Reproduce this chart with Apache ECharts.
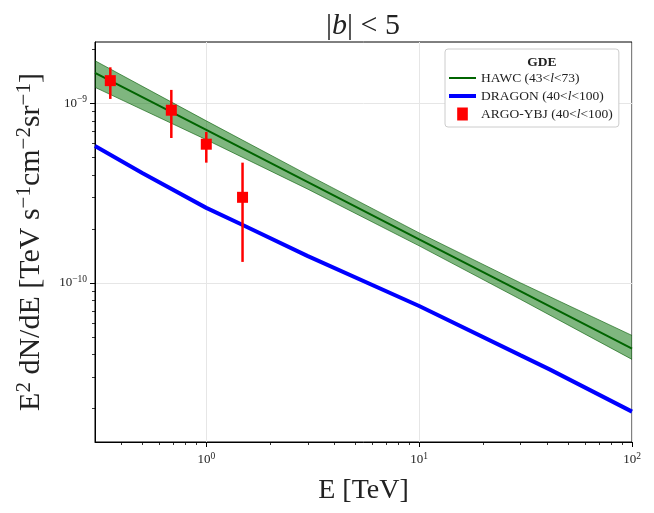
<!DOCTYPE html>
<html>
<head>
<meta charset="utf-8">
<script src="https://cdn.jsdelivr.net/npm/echarts@6/dist/echarts.min.js"></script>
<style>
  html, body { margin: 0; padding: 0; background: #fff; }
  #chart { width: 654px; height: 513px; }
</style>
</head>
<body>
<div id="chart"></div>
<script>
// HAWC power law with its uncertainty band
var hawcE = [0.3, 1, 3, 10, 30, 100];
var hawcFlux = [1.48e-9, 7.13e-10, 3.65e-10, 1.75e-10, 8.97e-11, 4.31e-11];
var hawcUpper = [1.73e-9, 8.0e-10, 4.0e-10, 1.9e-10, 1.0e-10, 5.1e-11];
var hawcLower = [1.23e-9, 6.28e-10, 3.33e-10, 1.61e-10, 8.09e-11, 3.75e-11];

// DRAGON model
var dragonE = [0.3, 0.5, 1, 1.5, 3, 10, 30, 41, 100];
var dragonFlux = [5.79e-10, 4.1e-10, 2.62e-10, 2.09e-10, 1.41e-10, 7.44e-11, 3.95e-11, 3.3e-11, 1.92e-11];

// ARGO-YBJ points
var argoE = [0.354, 0.685, 1.0, 1.48];
var argoFlux = [1.34e-9, 9.17e-10, 5.93e-10, 3.0e-10];
var argoHigh = [1.59e-9, 1.19e-9, 6.94e-10, 4.68e-10];
var argoLow = [1.06e-9, 6.42e-10, 4.68e-10, 1.31e-10];

// ticks
var xMajor = [1, 10, 100];
var xMinor = [0.4, 0.5, 0.6, 0.7, 0.8, 0.9, 2, 3, 4, 5, 6, 7, 8, 9, 20, 30, 40, 50, 60, 70, 80, 90];
var yMajor = [1e-10, 1e-9];
var yMinor = [2e-11, 3e-11, 4e-11, 5e-11, 6e-11, 7e-11, 8e-11, 9e-11,
              2e-10, 3e-10, 4e-10, 5e-10, 6e-10, 7e-10, 8e-10, 9e-10, 2e-9];

var serif = '"Liberation Serif", "DejaVu Serif", serif';

function zip(a, b) {
    var out = [];
    for (var i = 0; i < a.length; i++) out.push([a[i], b[i]]);
    return out;
}

function powLabel(v) {
    var e = Math.round(Math.log10(v));
    return '10{sup|' + (e < 0 ? '\u2212' + (-e) : e) + '}';
}

var labelRich = {
    sup: { fontFamily: serif, fontSize: 9.5, color: '#222', padding: [0, 0, 7, 0] }
};

function majorAxis(pos, min, max, vals, margin) {
    return {
        type: 'log', logBase: 10, min: min, max: max, position: pos,
        axisLine: { show: true, lineStyle: { color: '#000', width: 1 } },
        axisTick: { show: true, customValues: vals, length: 5, lineStyle: { color: '#000', width: 1 } },
        axisLabel: {
            customValues: vals, formatter: powLabel, margin: margin,
            fontFamily: serif, fontSize: 13, color: '#222', rich: labelRich
        },
        splitLine: { show: true, lineStyle: { color: '#e6e6e6', width: 1 } },
        minorTick: { show: false }
    };
}

function minorAxis(pos, min, max, vals) {
    return {
        type: 'log', logBase: 10, min: min, max: max, position: pos,
        axisLine: { show: false },
        axisTick: { show: true, customValues: vals, length: 3, lineStyle: { color: '#000', width: 0.8 } },
        axisLabel: { show: false },
        splitLine: { show: false }
    };
}

var chart = echarts.init(document.getElementById('chart'));

var xMain = majorAxis('bottom', 0.3, 100, xMajor, 9);
xMain.name = 'E [TeV]';
xMain.nameLocation = 'middle';
xMain.nameGap = 35;
xMain.nameTextStyle = { fontFamily: serif, fontSize: 28, color: '#222' };

var yMain = majorAxis('left', 1.3e-11, 2.2e-9, yMajor, 8);
yMain.name = 'E{s|2} dN/dE [TeV s{s|\u22121}cm{s|\u22122}sr{s|\u22121}]';
yMain.nameLocation = 'middle';
yMain.nameGap = 46;
yMain.nameTextStyle = {
    fontFamily: serif, fontSize: 30, color: '#222',
    rich: { s: { fontFamily: serif, fontSize: 21, color: '#222', padding: [0, 0, 14, 0] } }
};

chart.setOption({
    animation: false,
    title: [{
        text: '|{i|b}| < 5',
        left: 358, top: 6, textAlign: 'center',
        textStyle: {
            fontFamily: serif, fontSize: 30, fontWeight: 'normal', color: '#222',
            rich: { i: { fontFamily: serif, fontSize: 30, fontStyle: 'italic', color: '#222' } }
        }
    }, {
        text: 'GDE',
        left: 537, top: 51, textAlign: 'center',
        textStyle: { fontFamily: serif, fontSize: 13.5, fontWeight: 'bold', color: '#222' }
    }],
    grid: {
        left: 95, right: 22, top: 42, bottom: 71,
        outerBoundsMode: 'none',
        containLabel: false,
        show: true, borderColor: '#000', borderWidth: 1
    },
    legend: {
        orient: 'vertical',
        left: 445, top: 49,
        padding: [22, 6, 6, 4],
        itemGap: 4,
        itemWidth: 27, itemHeight: 13,
        backgroundColor: '#fff',
        borderColor: '#cccccc', borderWidth: 1, borderRadius: 3,
        textStyle: {
            fontFamily: serif, fontSize: 13.5, color: '#222',
            rich: { i: { fontFamily: serif, fontSize: 13.5, fontStyle: 'italic', color: '#222' } }
        },
        formatter: function (name) {
            return name.replace(/<l</, '<{i|l}<');
        },
        data: [
            { name: 'HAWC (43<l<73)', icon: 'path://M0,0H27V2H0Z' },
            { name: 'DRAGON (40<l<100)', icon: 'path://M0,0H27V4H0Z' },
            { name: 'ARGO-YBJ (40<l<100)', icon: 'path://M0,0H9V11H0Z' }
        ]
    },
    xAxis: [xMain, minorAxis('bottom', 0.3, 100, xMinor)],
    yAxis: [yMain, minorAxis('left', 1.3e-11, 2.2e-9, yMinor)],
    series: [
        {
            name: 'HAWC band',
            type: 'custom',
            data: zip(hawcE, hawcFlux),
            z: 1,
            silent: true,
            renderItem: function (params, api) {
                if (params.dataIndex !== 0) return;
                var up = [], lo = [];
                for (var i = 0; i < hawcE.length; i++) {
                    up.push(api.coord([hawcE[i], hawcUpper[i]]));
                    lo.push(api.coord([hawcE[i], hawcLower[i]]));
                }
                var poly = up.concat(lo.slice().reverse());
                return {
                    type: 'group',
                    children: [
                        { type: 'polygon', shape: { points: poly }, style: { fill: 'rgba(0,110,0,0.5)' } },
                        { type: 'polyline', shape: { points: up }, style: { stroke: 'rgba(0,90,0,0.6)', lineWidth: 1, fill: null } },
                        { type: 'polyline', shape: { points: lo }, style: { stroke: 'rgba(0,90,0,0.6)', lineWidth: 1, fill: null } }
                    ]
                };
            }
        },
        {
            name: 'HAWC (43<l<73)',
            type: 'line',
            data: zip(hawcE, hawcFlux),
            symbol: 'none',
            z: 2,
            lineStyle: { color: '#006400', width: 2 },
            itemStyle: { color: '#006400' }
        },
        {
            name: 'DRAGON (40<l<100)',
            type: 'line',
            data: zip(dragonE, dragonFlux),
            symbol: 'none',
            z: 2,
            lineStyle: { color: '#0000ff', width: 4 },
            itemStyle: { color: '#0000ff' }
        },
        {
            name: 'ARGO errors',
            type: 'custom',
            z: 3,
            silent: true,
            data: argoE.map(function (e, i) { return [e, argoLow[i], argoHigh[i]]; }),
            renderItem: function (params, api) {
                var p1 = api.coord([api.value(0), api.value(1)]);
                var p2 = api.coord([api.value(0), api.value(2)]);
                return {
                    type: 'line',
                    shape: { x1: p1[0], y1: p1[1], x2: p2[0], y2: p2[1] },
                    style: { stroke: '#ff0000', lineWidth: 2.5 }
                };
            }
        },
        {
            name: 'ARGO-YBJ (40<l<100)',
            type: 'scatter',
            data: zip(argoE, argoFlux),
            symbol: 'rect',
            symbolSize: [11, 11],
            z: 4,
            itemStyle: { color: '#ff0000', opacity: 1 }
        }
    ]
});
</script>
</body>
</html>
